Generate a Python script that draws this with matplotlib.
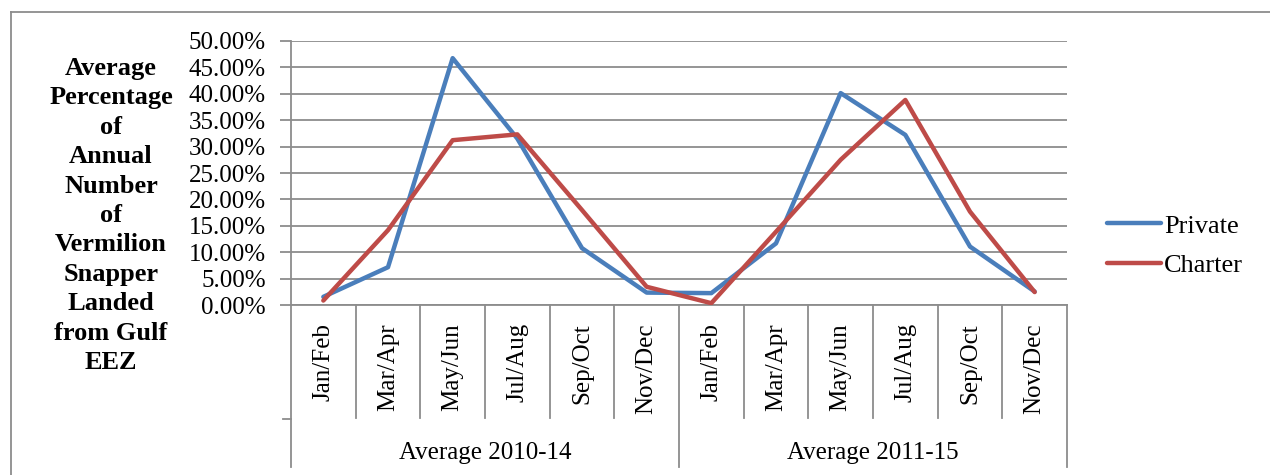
"""
Vermilion snapper landings by wave - private vs charter, two 5-year averages
"""

import matplotlib
matplotlib.use('Agg')
import matplotlib.pyplot as plt
from matplotlib.lines import Line2D
from matplotlib.ticker import PercentFormatter, MultipleLocator
import numpy as np

plt.rcParams['font.family'] = ['Liberation Serif', 'DejaVu Serif']

# Two-month waves, repeated for each averaging period
waves = ['Jan/Feb', 'Mar/Apr', 'May/Jun', 'Jul/Aug', 'Sep/Oct', 'Nov/Dec']
periods = ['Average 2010-14', 'Average 2011-15']

# Average percentage of annual number landed (Gulf EEZ)
private = [1.6, 7.2, 46.7, 31.5, 10.8, 2.4,
           2.3, 11.7, 40.1, 32.2, 11.1, 2.6]
charter = [0.9, 14.2, 31.2, 32.3, 18.0, 3.5,
           0.4, 13.9, 27.5, 38.8, 17.7, 2.5]

ylabel = ('Average\nPercentage\nof\nAnnual\nNumber\nof\nVermilion\n'
          'Snapper\nLanded\nfrom Gulf\nEEZ')

BLUE = '#4A7EBB'
RED = '#BE4B48'
GRID = '#8C8C8C'
FS = 18

W, H = 1270, 475
fig = plt.figure(figsize=(W / 100, H / 100), dpi=100)
ax = fig.add_axes([291 / W, 1 - 305.3 / H, (1067 - 291) / W, (305.3 - 40.7) / H])

x = np.arange(len(private))
ax.plot(x, private, color=BLUE, lw=3.2, label='Private',
        solid_joinstyle='round', solid_capstyle='round', zorder=3)
ax.plot(x, charter, color=RED, lw=3.2, label='Charter',
        solid_joinstyle='round', solid_capstyle='round', zorder=3)

ax.set_xlim(-0.5, len(private) - 0.5)
ax.set_ylim(0, 50)
ax.yaxis.set_major_locator(MultipleLocator(5))
ax.yaxis.set_major_formatter(PercentFormatter(decimals=2))
ax.grid(axis='y', color=GRID, lw=1.3)
ax.set_axisbelow(True)
ax.tick_params(axis='y', length=8, width=1.3, color=GRID, labelsize=FS, pad=10)
ax.set_xticks([])
for side in ['top', 'right']:
    ax.spines[side].set_visible(False)
for side in ['left', 'bottom']:
    ax.spines[side].set_color(GRID)
    ax.spines[side].set_linewidth(1.3)

# Category axis: wave dividers, period dividers and labels
trans = ax.get_xaxis_transform()
n = len(waves)
for i in range(len(private) + 1):
    bottom = -0.611 if i % n == 0 else -0.426
    ax.plot([i - 0.5, i - 0.5], [0, bottom], color=GRID, lw=1.3,
            transform=trans, clip_on=False)
ax.plot([-0.5 - 0.12, -0.5], [-0.430, -0.430], color=GRID, lw=1.3,
        transform=trans, clip_on=False)

for i in range(len(private)):
    ax.text(i, -0.067, waves[i % n], rotation=90, ha='center', va='top',
            fontsize=FS, transform=trans)
for j, p in enumerate(periods):
    ax.text(j * n + (n - 1) / 2, -0.581, p, ha='center', va='baseline',
            fontsize=FS, transform=trans)

fig.text(111 / W, 1 - 215.5 / H, ylabel, ha='center', va='center',
         fontsize=19, fontweight='bold', linespacing=1.36)

fig.legend(loc='center left', bbox_to_anchor=(1107 / W, 1 - 245.5 / H),
           frameon=False, fontsize=19, handlelength=2.05, handletextpad=0.12,
           labelspacing=0.6, borderpad=0, borderaxespad=0)

# Chart area border (left and top edges visible)
fig.add_artist(Line2D([11 / W, 11 / W], [0, 1 - 11.7 / H], color=GRID, lw=1.3))
fig.add_artist(Line2D([11 / W, 1], [1 - 11.7 / H, 1 - 11.7 / H], color=GRID, lw=1.3))

fig.savefig('out.png', dpi=100)
